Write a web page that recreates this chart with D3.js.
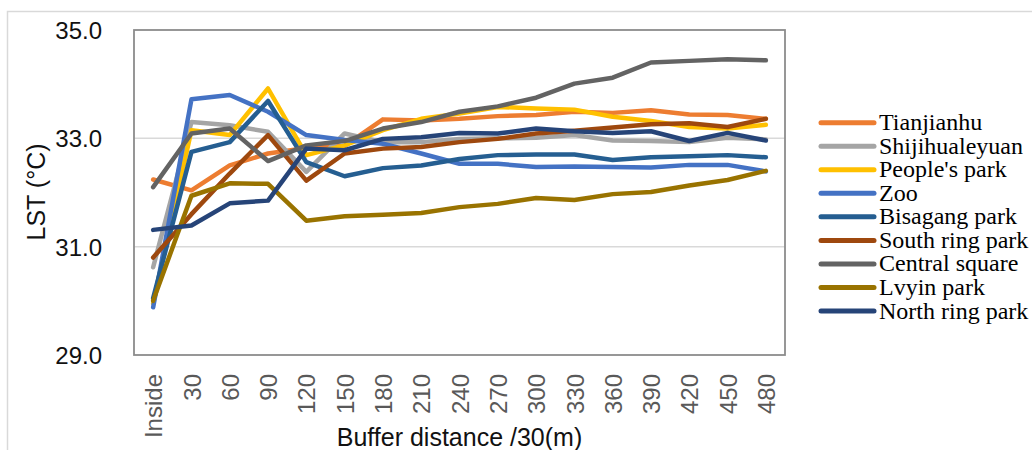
<!DOCTYPE html>
<html>
<head>
<meta charset="utf-8">
<script src="https://cdn.jsdelivr.net/npm/d3@7"></script>
<style>
  body { margin: 0; background: #fff; }
  svg { display: block; }
</style>
</head>
<body>
<svg id="chart" width="1032" height="450"></svg>
<script>
const categories = ["Inside","30","60","90","120","150","180","210","240","270","300","330","360","390","420","450","480"];
const yTicks = [29, 31, 33, 35];

const tianjianhu   = [32.24,32.04,32.50,32.72,32.82,32.86,33.35,33.33,33.36,33.41,33.43,33.49,33.47,33.52,33.44,33.43,33.36];
const shijihua     = [30.62,33.30,33.24,33.12,32.38,33.09,32.93,32.93,32.99,33.00,33.01,33.06,32.96,32.95,32.93,33.01,32.98];
const peoplesPark  = [29.95,33.15,33.06,33.92,32.69,32.87,33.15,33.36,33.46,33.58,33.55,33.53,33.40,33.32,33.21,33.18,33.25];
const zoo          = [29.88,33.72,33.80,33.49,33.06,32.97,32.90,32.72,32.53,32.53,32.47,32.48,32.47,32.46,32.51,32.51,32.39];
const bisagang     = [30.05,32.75,32.93,33.69,32.56,32.30,32.45,32.50,32.62,32.69,32.70,32.70,32.60,32.65,32.67,32.69,32.65];
const southRing    = [30.80,31.60,32.35,33.06,32.22,32.72,32.81,32.84,32.93,32.99,33.09,33.14,33.20,33.26,33.28,33.21,33.36];
const centralSq    = [32.10,33.09,33.18,32.58,32.87,32.95,33.18,33.30,33.49,33.59,33.75,34.01,34.12,34.40,34.43,34.46,34.44];
const lvyin        = [30.00,31.94,32.17,32.16,31.48,31.56,31.59,31.62,31.73,31.79,31.90,31.86,31.97,32.01,32.13,32.23,32.40];
const northRing    = [31.31,31.39,31.80,31.85,32.81,32.78,32.99,33.02,33.10,33.09,33.18,33.13,33.10,33.13,32.95,33.10,32.96];

const seriesNames  = ["Tianjianhu","Shijihualeyuan","People's park","Zoo","Bisagang park","South ring park","Central square","Lvyin park","North ring park"];
const seriesValues = [tianjianhu, shijihua, peoplesPark, zoo, bisagang, southRing, centralSq, lvyin, northRing];
const seriesColors = ["#ED7D31","#A5A5A5","#FFC000","#4472C4","#255E91","#9E480E","#636363","#997300","#264478"];

const svg = d3.select("#chart");
const L = 134, R = 785, T = 30, B = 355;

// outer chart border
svg.append("rect").attr("x", 7.5).attr("y", 11.5).attr("width", 1040).attr("height", 460)
  .attr("fill", "none").attr("stroke", "#d9d9d9").attr("stroke-width", 1.5);

const x = d3.scalePoint().domain(categories).range([L, R]).padding(0.5);
const y = d3.scaleLinear().domain([29, 35]).range([B, T]);

// gridlines
svg.append("g").selectAll("line").data(yTicks.filter(t => t > 29 && t < 35)).join("line")
  .attr("x1", L).attr("x2", R).attr("y1", d => y(d)).attr("y2", d => y(d))
  .attr("stroke", "#d9d9d9").attr("stroke-width", 1.5);

// plot border
svg.append("rect").attr("x", L).attr("y", T).attr("width", R - L).attr("height", B - T)
  .attr("fill", "none").attr("stroke", "#8c8c8c").attr("stroke-width", 1.8);

// y axis
const yAxis = d3.axisLeft(y).tickValues(yTicks).tickFormat(d3.format(".1f")).tickSize(0).tickPadding(0);
const gy = svg.append("g").attr("transform", `translate(${102},0)`).call(yAxis);
gy.select(".domain").remove();
gy.selectAll("text").attr("font-family", "Liberation Sans, Arial, sans-serif")
  .attr("font-size", 24).attr("fill", "#111").attr("dy", "0.36em");

// x axis
const xAxis = d3.axisBottom(x).tickSize(0).tickPadding(0);
const gx = svg.append("g").attr("transform", `translate(0,${B})`).call(xAxis);
gx.select(".domain").remove();
gx.selectAll("text")
  .attr("font-family", "Liberation Sans, Arial, sans-serif")
  .attr("font-size", 24).attr("fill", "#595959")
  .attr("text-anchor", "end")
  .attr("transform", "rotate(-90)")
  .attr("x", -19).attr("y", 0).attr("dy", "0.36em");

// axis titles
svg.append("text").attr("x", (L + R) / 2).attr("y", 446)
  .attr("text-anchor", "middle").attr("font-family", "Liberation Sans, Arial, sans-serif")
  .attr("font-size", 25).attr("fill", "#111").text("Buffer distance /30(m)");
svg.append("text").attr("transform", `translate(45,192) rotate(-90)`)
  .attr("text-anchor", "middle").attr("font-family", "Liberation Sans, Arial, sans-serif")
  .attr("font-size", 25).attr("fill", "#111").text("LST (°C)");

// lines
const line = d3.line().x((d, i) => x(categories[i])).y(d => y(d));
svg.append("g").selectAll("path").data(seriesValues).join("path")
  .attr("d", d => line(d)).attr("fill", "none")
  .attr("stroke", (d, i) => seriesColors[i]).attr("stroke-width", 4.5)
  .attr("stroke-linejoin", "round").attr("stroke-linecap", "round");

// legend
const leg = svg.append("g");
const rowY = d3.scaleLinear().domain([0, 8]).range([122.7, 311]);
const items = leg.selectAll("g").data(seriesNames).join("g")
  .attr("transform", (d, i) => `translate(0,${rowY(i)})`);
items.append("line").attr("x1", 821).attr("x2", 874).attr("y1", 0).attr("y2", 0)
  .attr("stroke", (d, i) => seriesColors[i]).attr("stroke-width", 5).attr("stroke-linecap", "round");
items.append("text").attr("x", 879).attr("y", 7.5)
  .attr("font-family", "Liberation Serif, Times New Roman, serif").attr("font-size", 24)
  .attr("fill", "#000").text(d => d);
</script>
</body>
</html>
